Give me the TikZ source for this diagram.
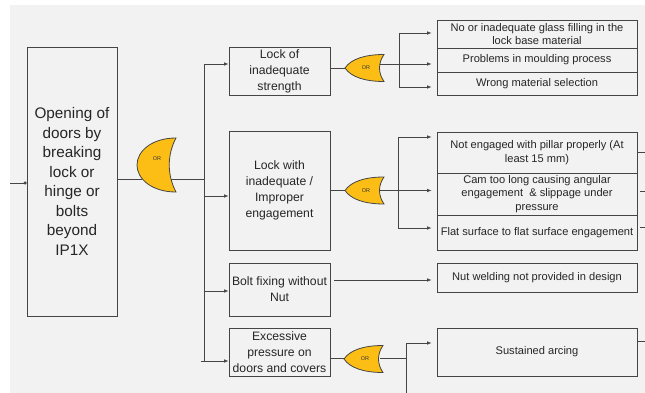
\documentclass[tikz,border=0pt]{standalone}
\usepackage{fontspec}
\setmainfont{Liberation Sans}
\usetikzlibrary{arrows.meta}
\definecolor{bg}{HTML}{F2F2F2}
\definecolor{ln}{HTML}{454545}
\definecolor{gatey}{RGB}{252,190,20}
\tikzset{
  box/.style={draw=ln, line width=0.8pt, align=center, inner sep=0pt, text=black!85},
  bigtxt/.style={font=\fontsize{15.3}{19.5}\selectfont},
  midtxt/.style={font=\fontsize{12.2}{16}\selectfont},
  smalltxt/.style={font=\fontsize{11.1}{13.5}\selectfont},
  conn/.style={draw=ln, line width=0.8pt},
  arr/.style={conn, -{Latex[length=4.5pt,width=3.6pt]}},
  ortxt/.style={font=\fontsize{5.5}{6}\selectfont, text=black!80, inner sep=0pt},
  pics/biggate/.style={code={
    \filldraw[fill=gatey, draw=ln, line width=0.8pt]
      (39,-27) .. controls (15,-27) and (0,-14) .. (0,0)
      .. controls (0,14) and (15,27) .. (39,27)
      .. controls (30,10) and (30,-10) .. cycle;
    \node[ortxt] at (20,-6) {OR};
  }},
  pics/smallgate/.style={code={
    \filldraw[fill=gatey, draw=ln, line width=0.8pt]
      (0,0) .. controls (6,-9) and (20,-13.5) .. (39,-13.5)
      .. controls (33,-5) and (33,5) .. (39,13.5)
      .. controls (20,13.5) and (6,9) .. cycle;
    \node[ortxt] at (21,0) {OR};
  }}
}
\begin{document}
\begin{tikzpicture}[x=1pt,y=-1pt]
\useasboundingbox (0,0) rectangle (645,393);
\fill[white] (0,0) rectangle (645,393);
\fill[bg] (10,5) rectangle (645,393);

% boxes
\node[box, bigtxt, minimum width=90, minimum height=269] (main) at (72,181.5)
  {Opening of\\doors by\\breaking\\lock or\\hinge or\\bolts\\beyond\\IP1X};
\node[box, midtxt, minimum width=101, minimum height=48] (b1) at (279.5,71)
  {Lock of\\inadequate\\strength};
\node[box, midtxt, minimum width=101, minimum height=119] (b2) at (279.5,190.5)
  {Lock with\\inadequate /\\Improper\\engagement};
\node[box, midtxt, minimum width=101, minimum height=53] (b3) at (279.5,289.5)
  {Bolt fixing without\\Nut};
\node[box, midtxt, minimum width=101, minimum height=48] (b4) at (279.5,352)
  {Excessive\\pressure on\\doors and covers};

\node[box, smalltxt, minimum width=200, minimum height=28] (r1) at (537,34)
  {No or inadequate glass filling in the\\lock base material};
\node[box, smalltxt, minimum width=200, minimum height=24] (r2) at (537,60)
  {Problems in moulding process};
\node[box, smalltxt, minimum width=200, minimum height=23] (r3) at (537,83.5)
  {Wrong material selection};
\node[box, smalltxt, minimum width=200, minimum height=41] (m1) at (537,152.5)
  {Not engaged with pillar properly (At\\least 15 mm)};
\node[box, smalltxt, minimum width=200, minimum height=42] (m2) at (537,194)
  {Cam too long causing angular\\engagement \ \& slippage under\\pressure};
\node[box, smalltxt, minimum width=200, minimum height=35] (m3) at (537,232.5)
  {Flat surface to flat surface engagement};
\node[box, smalltxt, minimum width=200, minimum height=29] (n1) at (537,277.5)
  {Nut welding not provided in design};
\node[box, smalltxt, minimum width=200, minimum height=48] (s1) at (537,352)
  {Sustained arcing};

% coordinates
\coordinate (lin) at (10,183);
\coordinate (g1i) at (142,179.5);
\coordinate (g1o) at (170,179.5);
\coordinate (bus1t) at (204,64);
\coordinate (j2) at (204,196);
\coordinate (j3) at (204,291);
\coordinate (bus1b) at (204,361);
\coordinate (j4) at (201,361);

\coordinate (g2i) at (345,68);
\coordinate (g2o) at (380,64);
\coordinate (k1) at (399,33);
\coordinate (k2) at (399,64);
\coordinate (k3) at (399,87);

\coordinate (g3i) at (345,190.5);
\coordinate (g3o) at (380,190.5);
\coordinate (h1) at (398,137);
\coordinate (h2) at (398,190.5);
\coordinate (h3) at (398,228);

\coordinate (g4i) at (345,358.5);
\coordinate (g4o) at (380,358.5);
\coordinate (p1) at (406,343);
\coordinate (p2) at (406,358.5);
\coordinate (pb) at (406,393);

\coordinate (bo) at (334,280);

\coordinate (e1) at (645,152);
\coordinate (e2s) at (640,191);
\coordinate (e2) at (645,191);
\coordinate (e3s) at (640,227);
\coordinate (e3) at (645,227);
\coordinate (e4) at (645,341);

% connectors
\draw[conn, -{Circle[length=3pt]}] (lin) -- (lin -| main.west);
\draw[conn] (main.east |- g1i) -- (g1i);
\draw[conn] (g1o) -- (g1o -| bus1t);
\draw[conn] (bus1t) -- (bus1b);
\draw[arr] (bus1t) -- (bus1t -| b1.west);
\draw[arr] (j2) -- (j2 -| b2.west);
\draw[arr] (j3) -- (j3 -| b3.west);
\draw[arr] (j4) -- (j4 -| b4.west);

\draw[conn] (b1.east |- g2i) -- (g2i);
\draw[conn] (g2o) -- (k2);
\draw[conn] (k1) -- (k3);
\draw[arr, shorten >=5pt] (k1) -- (k1 -| r1.west);
\draw[arr, shorten >=5pt] (k2) -- (k2 -| r2.west);
\draw[arr, shorten >=5pt] (k3) -- (k3 -| r3.west);

\draw[conn] (b2.east |- g3i) -- (g3i);
\draw[conn] (g3o) -- (h2);
\draw[conn] (h1) -- (h3);
\draw[arr, shorten >=5pt] (h1) -- (h1 -| m1.west);
\draw[arr, shorten >=5pt] (h2) -- (h2 -| m2.west);
\draw[arr, shorten >=5pt] (h3) -- (h3 -| m3.west);

\draw[arr, shorten >=5pt] (bo) -- (bo -| n1.west);

\draw[conn] (b4.east |- g4i) -- (g4i);
\draw[conn] (g4o) -- (p2);
\draw[conn] (p1) -- (pb);
\draw[arr, shorten >=5pt] (p1) -- (p1 -| s1.west);

\draw[conn] (m1.east |- e1) -- (e1);
\draw[conn] (e2s) -- (e2);
\draw[conn] (e3s) -- (e3);
\draw[conn] (s1.east |- e4) -- (e4);

% gates
\pic at (137,165) {biggate};
\pic at (345,68) {smallgate};
\pic at (345,190.5) {smallgate};
\pic at (344,359) {smallgate};
\end{tikzpicture}
\end{document}
